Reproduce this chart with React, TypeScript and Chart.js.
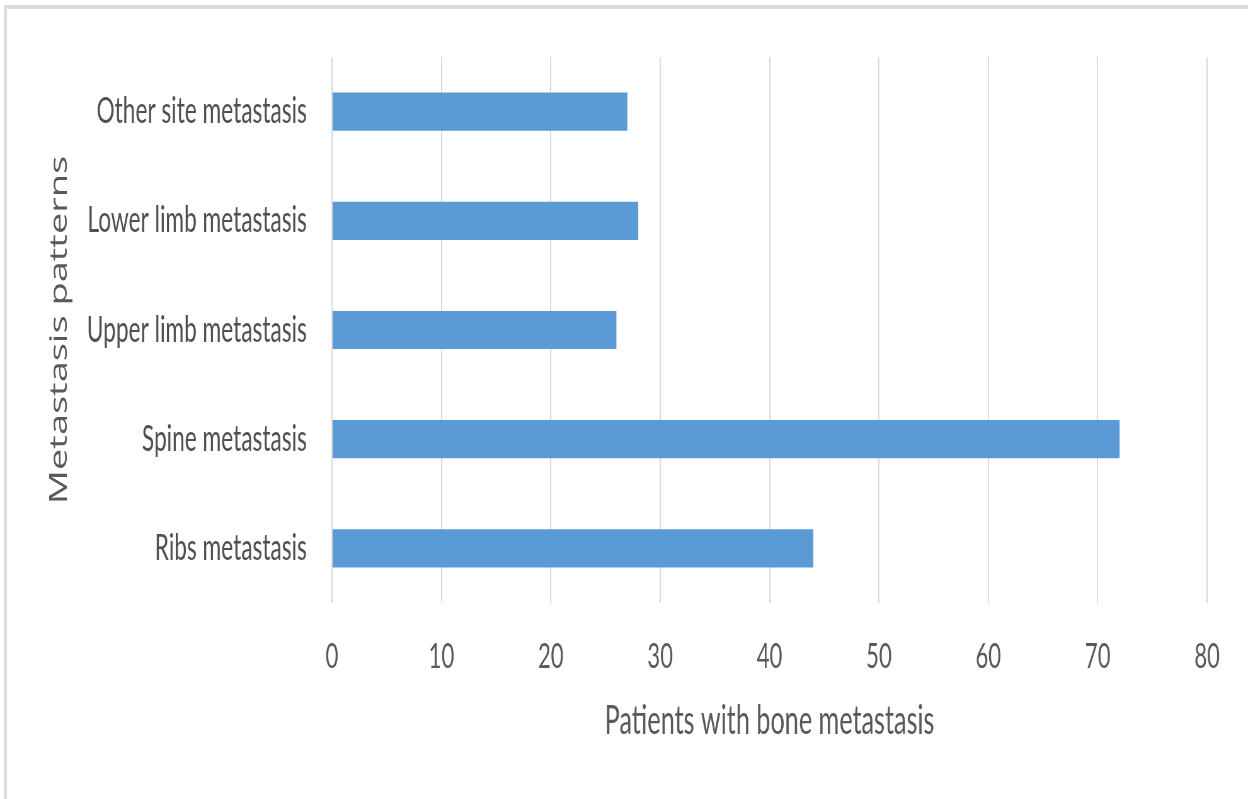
import React, { useEffect, useRef } from "react";
import { Chart, registerables } from "chart.js";

Chart.register(...registerables);

const categories = [
  "Other site metastasis",
  "Lower limb metastasis",
  "Upper limb metastasis",
  "Spine metastasis",
  "Ribs metastasis",
];
const patients = [27, 28, 26, 72, 44];
const xTitle = "Patients with bone metastasis";
const yTitle = "Metastasis patterns";

// horizontal squeeze of the original figure
const SQUEEZE = 0.63;
const PAGE_W = 1248;
const PAGE_H = 799;
const CANVAS_W = Math.round(PAGE_W / SQUEEZE);

export default function App() {
  const ref = useRef<HTMLCanvasElement | null>(null);

  useEffect(() => {
    if (!ref.current) return;
    const grey = "#595959";
    const chart = new Chart(ref.current, {
      type: "bar",
      data: {
        labels: categories,
        datasets: [
          {
            data: patients,
            backgroundColor: "#5B9BD5",
            borderWidth: 0,
            barPercentage: 0.35,
            categoryPercentage: 1,
          },
        ],
      },
      options: {
        indexAxis: "y",
        animation: false,
        responsive: false,
        devicePixelRatio: 1,
        layout: { padding: { top: 57, right: 65, bottom: 54, left: 0 } },
        plugins: { legend: { display: false }, tooltip: { enabled: false } },
        scales: {
          x: {
            min: 0,
            max: 80,
            ticks: {
              stepSize: 10,
              color: grey,
              padding: 33,
              font: { family: "Lato", size: 35 },
            },
            grid: { color: "#d9d9d9", lineWidth: 2, drawTicks: false },
            border: { display: false },
            title: {
              display: true,
              text: xTitle,
              color: grey,
              font: { family: "Lato", size: 40 },
              padding: { top: 21, bottom: 0 },
            },
            afterFit: (scale: any) => {
              scale.height = 142;
            },
          },
          y: {
            ticks: {
              color: "#505050",
              padding: 40,
              font: { family: "Lato", size: 36 },
            },
            grid: { display: false, drawTicks: false },
            border: { display: false },
            title: {
              display: true,
              text: yTitle,
              color: grey,
              font: { family: "Open Sans", size: 38 },
              padding: { top: 72, bottom: 0 },
            },
            afterFit: (scale: any) => {
              scale.width = Math.round(332 / SQUEEZE);
              scale.paddingTop = 0;
              scale.paddingBottom = 0;
            },
          },
        },
      },
    });
    return () => chart.destroy();
  }, []);

  return (
    <div
      style={{
        position: "fixed",
        left: 0,
        top: 0,
        width: PAGE_W,
        height: PAGE_H,
        overflow: "hidden",
        background: "#ffffff",
      }}
    >
      <canvas
        ref={ref}
        width={CANVAS_W}
        height={PAGE_H}
        style={{
          position: "absolute",
          left: 0,
          top: 0,
          width: PAGE_W + "px",
          height: PAGE_H + "px",
        }}
      />
      <div
        style={{
          position: "absolute",
          left: 4,
          top: 5,
          width: 3000,
          height: 3000,
          borderTop: "4px solid #dcdcdc",
          borderLeft: "3px solid #dcdcdc",
          pointerEvents: "none",
        }}
      />
    </div>
  );
}
